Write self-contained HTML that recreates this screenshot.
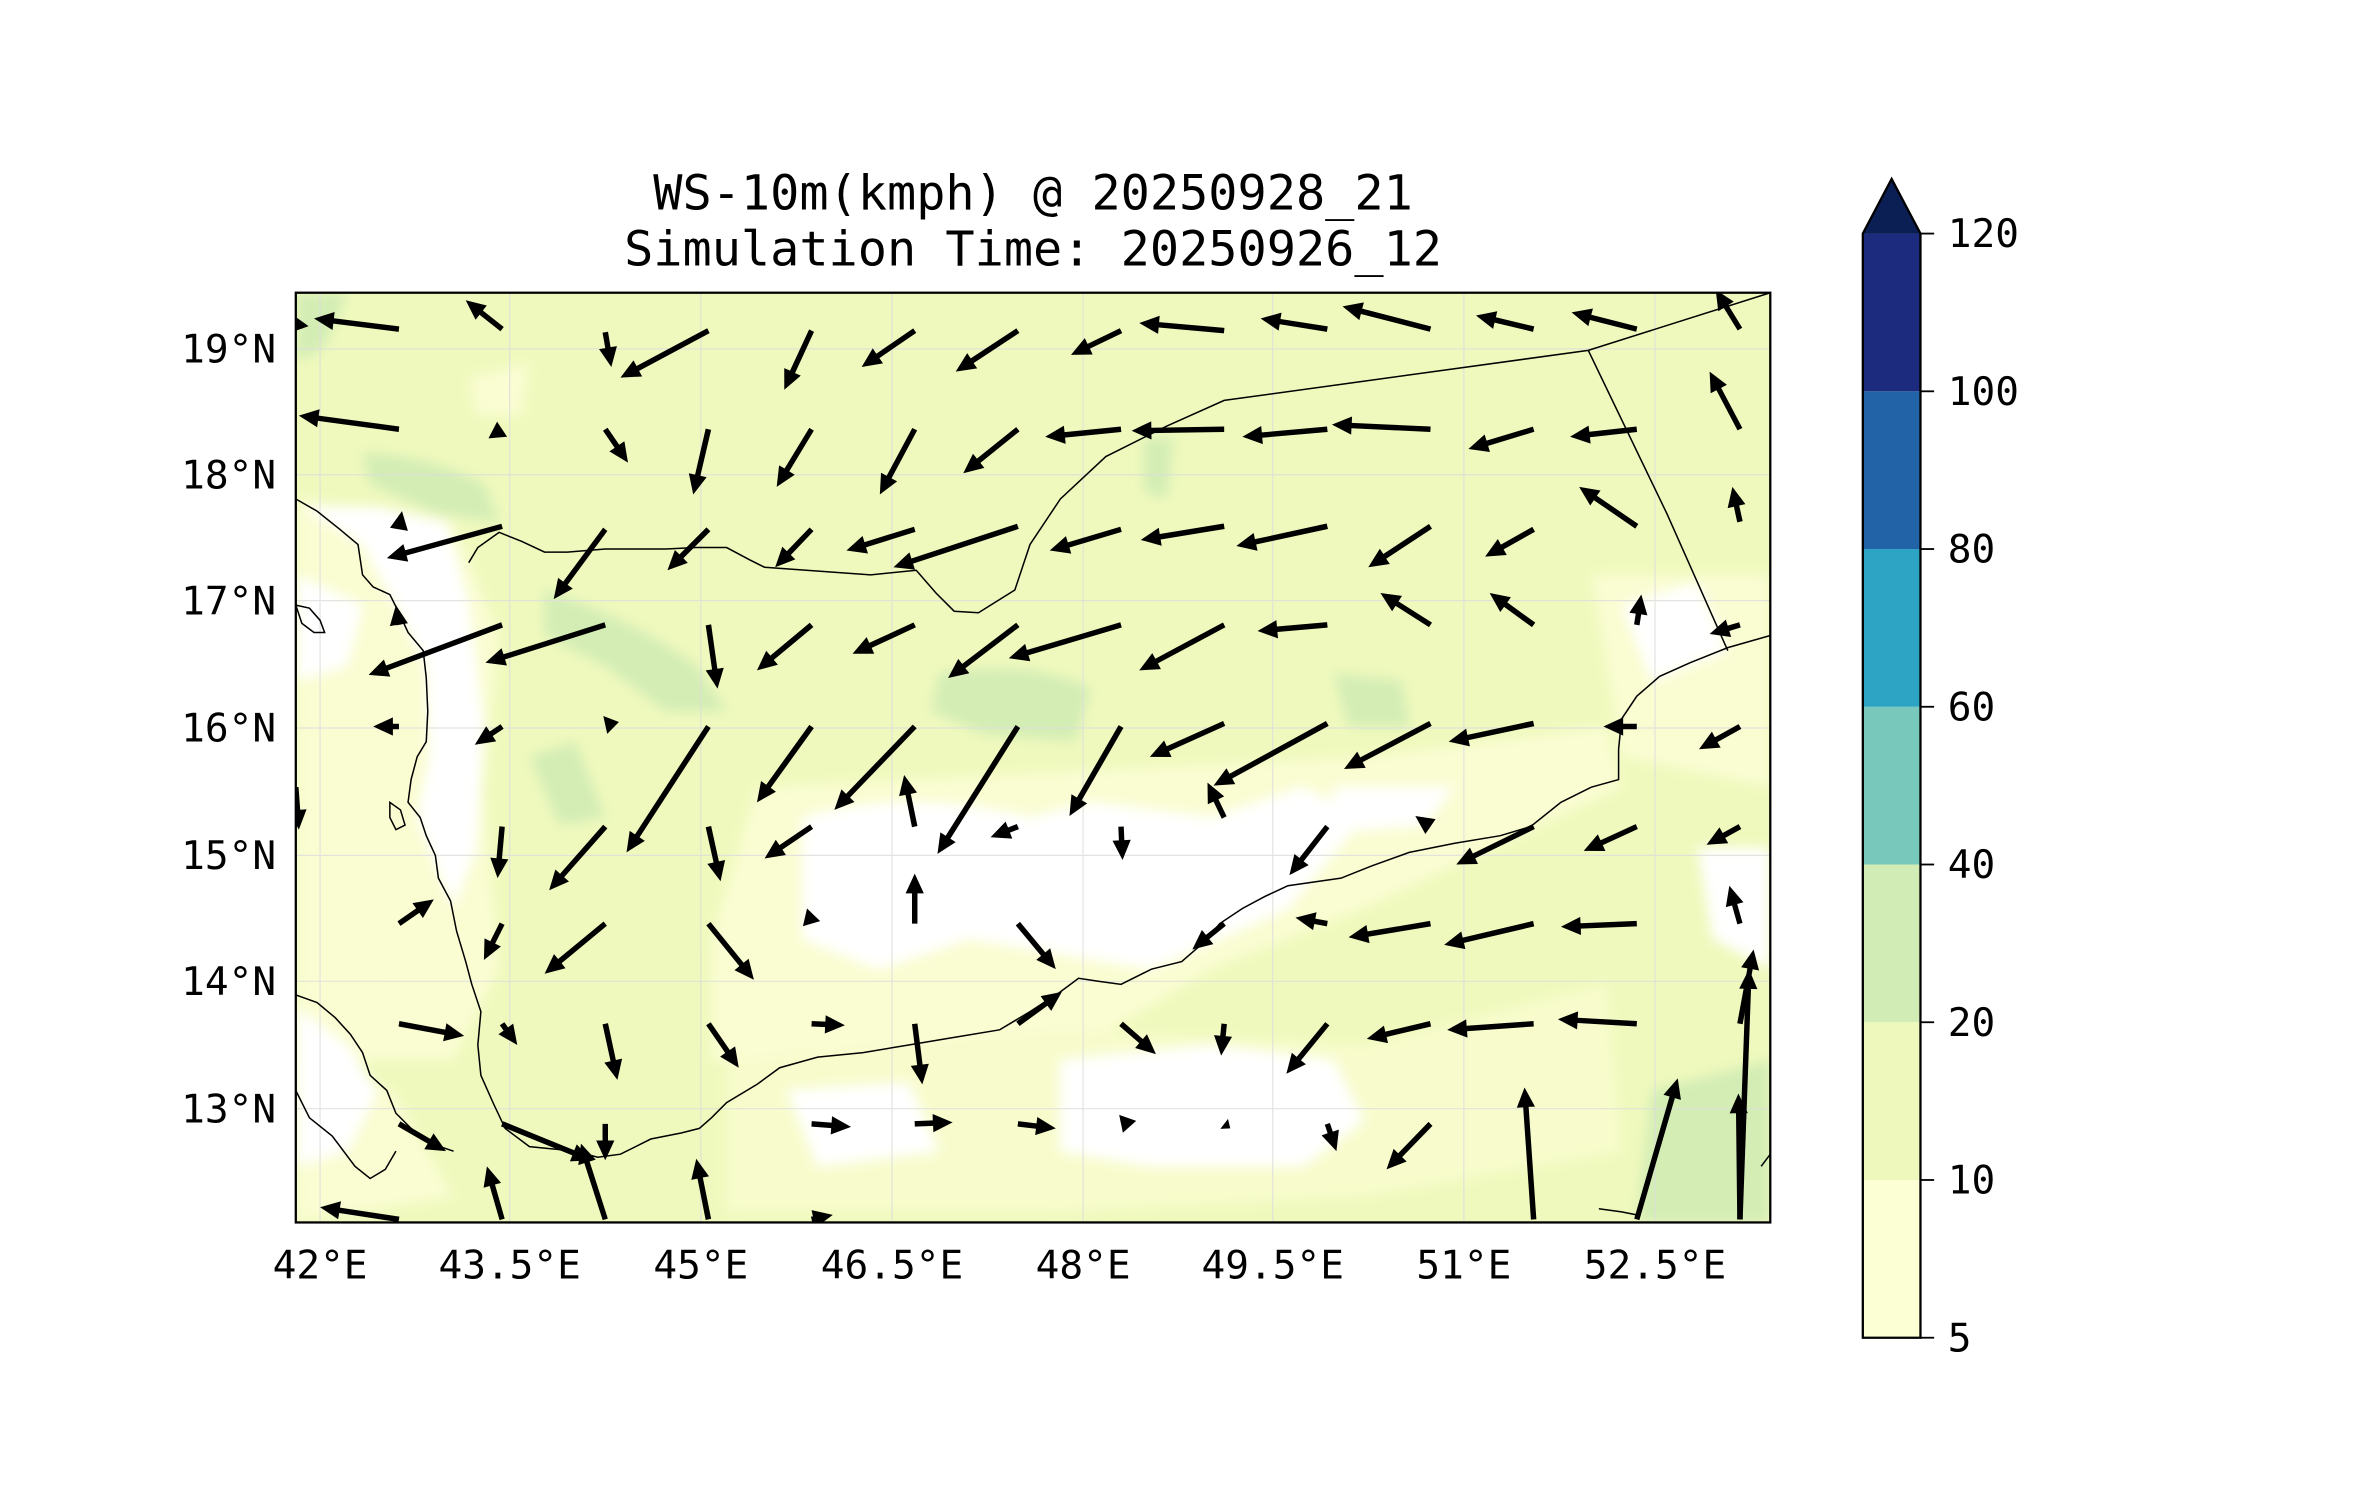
<!DOCTYPE html>
<html><head><meta charset="utf-8"><style>
html,body{margin:0;padding:0;background:#fff;width:2371px;height:1500px;overflow:hidden}
svg{display:block}
text{font-family:"DejaVu Sans Mono","Liberation Mono",monospace;fill:#000}
</style></head><body>
<svg id="s" width="2371" height="1500" viewBox="1 1 1563 989" preserveAspectRatio="none" xmlns="http://www.w3.org/2000/svg">
<defs>
<clipPath id="pc"><rect x="196" y="194" width="972" height="613"/></clipPath>
<filter id="bl"><feGaussianBlur stdDeviation="4"/></filter>
</defs>
<rect x="0" y="0" width="1570" height="1000" fill="#fff"/>
<g clip-path="url(#pc)">
<rect x="196" y="194" width="972" height="613" fill="#eff9bd"/>
<g filter="url(#bl)">
<path d="M196,330 L300,345 L330,420 L320,520 L330,640 L300,700 L196,700Z" fill="#fafdd2"/>
<path d="M500,520 L900,500 L1060,480 L1070,520 L900,600 L800,640 L700,700 L560,720 L470,700 L470,620Z" fill="#fafdd2"/>
<path d="M480,700 L700,680 L900,690 L1060,650 L1070,760 L900,790 L700,800 L480,800Z" fill="#f8fccc"/>
<path d="M1050,380 L1168,380 L1168,520 L1070,500Z" fill="#fafdd2"/>
<path d="M196,700 L260,720 L300,790 L196,807Z" fill="#fafdd2"/>
<path d="M200,335 L240,360 L262,400 L282,440 L284,500 L276,540 L300,600 L315,560 L320,480 L310,400 L295,345 L250,335Z" fill="#fff"/>
<path d="M196,380 L240,400 L230,440 L196,450Z" fill="#fff"/>
<path d="M530,540 Q600,520 680,540 L720,530 L800,540 L860,520 L900,540 L850,600 L760,640 L700,630 L640,620 L580,640 L530,620Z" fill="#fff"/>
<path d="M700,700 L800,690 L880,700 L900,740 L860,770 L760,770 L700,760Z" fill="#fff"/>
<path d="M1070,400 L1120,385 L1140,430 L1090,450Z" fill="#fff"/>
<path d="M880,520 L960,520 L940,545 L880,550Z" fill="#fff"/>
<path d="M196,665 L230,690 L250,720 L230,760 L196,770Z" fill="#fff"/>
<path d="M520,720 L600,715 L620,760 L540,770Z" fill="#fff"/>
<path d="M1120,560 L1168,560 L1168,640 L1130,620Z" fill="#fff"/>
<path d="M310,250 L350,240 L345,275 L315,275Z" fill="#fafdd2"/>
<path d="M240,300 Q280,300 320,320 L330,345 L290,340 L245,320Z" fill="#d3edb5"/>
<path d="M360,390 Q420,410 460,440 L480,470 L440,470 L400,440 L360,420Z" fill="#d3edb5"/>
<path d="M620,445 Q680,435 720,455 L710,490 L650,485 L615,470Z" fill="#d3edb5"/>
<path d="M880,445 L925,450 L930,480 L890,480Z" fill="#d3edb5"/>
<path d="M1090,720 L1168,700 L1168,807 L1080,807Z" fill="#d3edb5"/>
<path d="M350,500 L380,490 L400,540 L370,545Z" fill="#d3edb5"/>
<path d="M755,290 L775,290 L770,330 L755,325Z" fill="#d3edb5"/>
<path d="M196,194 L230,194 L215,230 L196,240Z" fill="#d3edb5"/>
</g>
<g stroke="#ddd" stroke-width="0.8" opacity="0.8">
<line x1="212" y1="194" x2="212" y2="807"/><line x1="337" y1="194" x2="337" y2="807"/><line x1="463" y1="194" x2="463" y2="807"/><line x1="589" y1="194" x2="589" y2="807"/><line x1="715" y1="194" x2="715" y2="807"/><line x1="840" y1="194" x2="840" y2="807"/><line x1="966" y1="194" x2="966" y2="807"/><line x1="1092" y1="194" x2="1092" y2="807"/>
<line x1="196" y1="231" x2="1168" y2="231"/><line x1="196" y1="314" x2="1168" y2="314"/><line x1="196" y1="397" x2="1168" y2="397"/><line x1="196" y1="481" x2="1168" y2="481"/><line x1="196" y1="565" x2="1168" y2="565"/><line x1="196" y1="648" x2="1168" y2="648"/><line x1="196" y1="732" x2="1168" y2="732"/>
</g>
<g fill="none" stroke="#000" stroke-width="1">
<path d="M196,330 L210,338 L225,350 L237,360 L240,380 L247,388 L258,393 L264,405 L270,418 L280,430 L282,448 L283,470 L282,490 L276,500 L272,515 L270,530 L278,540 L282,552 L288,565 L290,580 L298,595 L302,615 L308,635 L312,650 L318,668 L316,690 L318,710 L326,728 L334,745 L350,757 L380,760 L395,764 L410,762 L430,752 L450,748 L462,745 L470,738 L480,728 L500,716 L515,705 L540,698 L570,695 L600,690 L630,685 L660,680 L680,668 L700,655 L712,646 L725,648 L740,650 L760,640 L780,635 L795,622 L805,610 L820,600 L835,592 L850,585 L885,580 L905,572 L930,563 L960,557 L990,552 L1010,546 L1030,530 L1050,520 L1068,515 L1068,495 L1070,475 L1080,460 L1095,447 L1115,438 L1140,428 L1168,420"/>
<path d="M196,657 L210,662 L222,672 L232,683 L240,695 L245,710 L256,720 L262,735 L275,748 L285,755 L300,760"/>
<path d="M196,720 L205,738 L220,750 L235,770 L245,778 L255,772 L262,760"/>
<path d="M310,372 L316,362 L330,352 L345,358 L360,365 L375,365 L400,363 L440,363 L460,362 L480,362 L495,370 L505,375 L575,380 L605,377 L618,392 L630,404 L646,405 L670,390 L680,360 L700,330 L730,302 L770,282 L808,265 L1048,232 L1168,194"/>
<path d="M1048,232 L1100,340 L1140,430"/>
<path d="M196,400 L205,402 L212,410 L215,418 L208,418 L200,412 Z"/>
<path d="M258,530 L265,535 L268,545 L262,548 L258,540Z"/>
<path d="M1055,798 L1070,800 L1080,802"/>
<path d="M1162,770 L1168,762"/>
</g>
</g>
<rect x="196" y="194" width="972" height="613" fill="none" stroke="#000" stroke-width="1.5"/>
<g id="arr" fill="#000" clip-path="url(#pc)"></g>
<text x="682" y="139" font-size="32" text-anchor="middle">WS-10m(kmph) @ 20250928_21</text>
<text x="682" y="176" font-size="32" text-anchor="middle">Simulation Time: 20250926_12</text>
<g font-size="26" text-anchor="end">
<text x="183" y="240">19°N</text><text x="183" y="323">18°N</text><text x="183" y="406">17°N</text><text x="183" y="490">16°N</text><text x="183" y="574">15°N</text><text x="183" y="657">14°N</text><text x="183" y="741">13°N</text>
</g>
<g font-size="26" text-anchor="middle">
<text x="212" y="844">42°E</text><text x="337" y="844">43.5°E</text><text x="463" y="844">45°E</text><text x="589" y="844">46.5°E</text><text x="715" y="844">48°E</text><text x="840" y="844">49.5°E</text><text x="966" y="844">51°E</text><text x="1092" y="844">52.5°E</text>
</g>
<rect x="1229" y="779" width="38" height="104" fill="#fcfed4"/>
<rect x="1229" y="675" width="38" height="104" fill="#eff8bc"/>
<rect x="1229" y="571" width="38" height="104" fill="#d1ecb5"/>
<rect x="1229" y="467" width="38" height="104" fill="#78c9bb"/>
<rect x="1229" y="363" width="38" height="104" fill="#2da4c3"/>
<rect x="1229" y="259" width="38" height="104" fill="#2263a7"/>
<rect x="1229" y="155" width="38" height="104" fill="#1c2b7d"/>
<polygon points="1229,155 1248,119 1267,155" fill="#0b1f55"/>
<polygon points="1229,155 1248,119 1267,155 1267,883 1229,883" fill="none" stroke="#000" stroke-width="1.5"/>
<g stroke="#000" stroke-width="1.2">
<line x1="1267" y1="155" x2="1276" y2="155"/><line x1="1267" y1="259" x2="1276" y2="259"/><line x1="1267" y1="363" x2="1276" y2="363"/><line x1="1267" y1="467" x2="1276" y2="467"/><line x1="1267" y1="571" x2="1276" y2="571"/><line x1="1267" y1="675" x2="1276" y2="675"/><line x1="1267" y1="779" x2="1276" y2="779"/><line x1="1267" y1="883" x2="1276" y2="883"/>
</g>
<g font-size="26">
<text x="1285" y="164">120</text><text x="1285" y="268">100</text><text x="1285" y="372">80</text><text x="1285" y="476">60</text><text x="1285" y="580">40</text><text x="1285" y="684">20</text><text x="1285" y="788">10</text><text x="1285" y="892">5</text>
</g>
</svg>
<script>
var A=[
[199,218,196,210],[264,218,208,211],[332,218,308,199],[400,220,404,243],[468,219,410,250],[536,219,518,258],[604,219,569,243],[672,219,631,246],[740,219,707,235],[808,219,752,214],[876,218,832,211],[944,218,886,203],[1012,218,974,209],[1080,218,1037,207],[1148,218,1132,192],
[264,284,198,275],[332,284,323,290],[400,284,415,306],[468,284,458,327],[536,284,513,322],[604,284,581,327],[672,284,636,313],[740,284,690,289],[808,284,747,285],[876,284,820,289],[944,284,879,281],[1012,284,969,297],[1080,284,1036,289],[1148,284,1128,246],
[264,350,266,338],[332,348,256,369],[400,350,366,396],[468,350,441,377],[536,350,512,375],[604,350,559,364],[672,348,590,375],[740,350,693,364],[808,348,753,357],[876,348,816,361],[944,348,903,375],[1012,350,980,368],[1080,348,1042,322],[1148,345,1143,322],
[264,413,262,400],[332,413,244,446],[400,413,321,438],[468,413,474,455],[536,413,500,443],[604,413,563,432],[672,413,626,448],[740,413,666,435],[808,413,752,443],[876,413,830,417],[944,413,911,392],[1012,413,983,392],[1080,413,1083,393],[1148,413,1128,419],
[264,480,247,480],[332,480,314,492],[400,479,409,477],[468,480,414,563],[536,480,500,530],[604,480,551,535],[672,480,619,564],[740,480,706,539],[808,478,759,500],[876,478,801,519],[944,478,887,508],[1012,478,956,490],[1080,480,1058,480],[1148,480,1121,495],
[196,520,198,548],[332,546,329,580],[400,546,363,588],[468,546,476,582],[536,546,505,567],[604,546,597,512],[672,546,654,553],[740,546,741,568],[808,540,797,517],[876,546,851,578],[944,546,934,539],[1012,546,961,571],[1080,546,1045,562],[1148,546,1126,558],
[264,610,287,594],[332,610,320,634],[400,610,360,643],[468,610,498,647],[536,610,533,600],[604,610,604,577],[672,610,697,640],[808,610,787,627],[876,610,855,606],[944,610,890,619],[1012,610,953,624],[1080,610,1030,612],[1148,610,1141,585],
[264,676,307,684],[332,676,342,690],[400,676,408,713],[468,676,488,705],[536,676,558,677],[604,676,609,716],[672,676,701,655],[740,676,763,696],[808,676,806,697],[876,676,849,709],[944,676,902,686],[1012,676,955,680],[1080,676,1028,673],[1148,676,1157,627],
[264,742,295,760],[332,742,391,766],[400,742,400,766],[536,742,562,744],[604,742,629,741],[672,742,697,745],[740,742,750,740],[808,742,812,745],[876,742,882,760],[944,742,915,772],
[264,805,212,797],[332,805,322,770],[400,805,384,755],[468,805,460,765],[536,805,550,802],[1012,805,1006,718],[1080,805,1107,712],[1148,805,1147,722],[1148,805,1154,640]
];
var g=document.getElementById('arr'),ns='http://www.w3.org/2000/svg',W=1.8,HL=13,HW=6;
A.forEach(function(a){
 var dx=a[2]-a[0],dy=a[3]-a[1],L=Math.sqrt(dx*dx+dy*dy);if(L<1)return;
 var ux=dx/L,uy=dy/L,px=-uy,py=ux,hl=Math.min(HL,L),hw=HW*Math.min(1,L/HL+0.3);
 var bx=a[2]-ux*hl,by=a[3]-uy*hl,pts=[];
 pts.push([a[0]+px*W,a[1]+py*W]);pts.push([bx+px*W,by+py*W]);pts.push([bx+px*hw,by+py*hw]);pts.push([a[2],a[3]]);
 pts.push([bx-px*hw,by-py*hw]);pts.push([bx-px*W,by-py*W]);pts.push([a[0]-px*W,a[1]-py*W]);
 var p=document.createElementNS(ns,'polygon');
 p.setAttribute('points',pts.map(function(q){return q[0].toFixed(1)+','+q[1].toFixed(1)}).join(' '));
 g.appendChild(p);
});
</script>
</body></html>
